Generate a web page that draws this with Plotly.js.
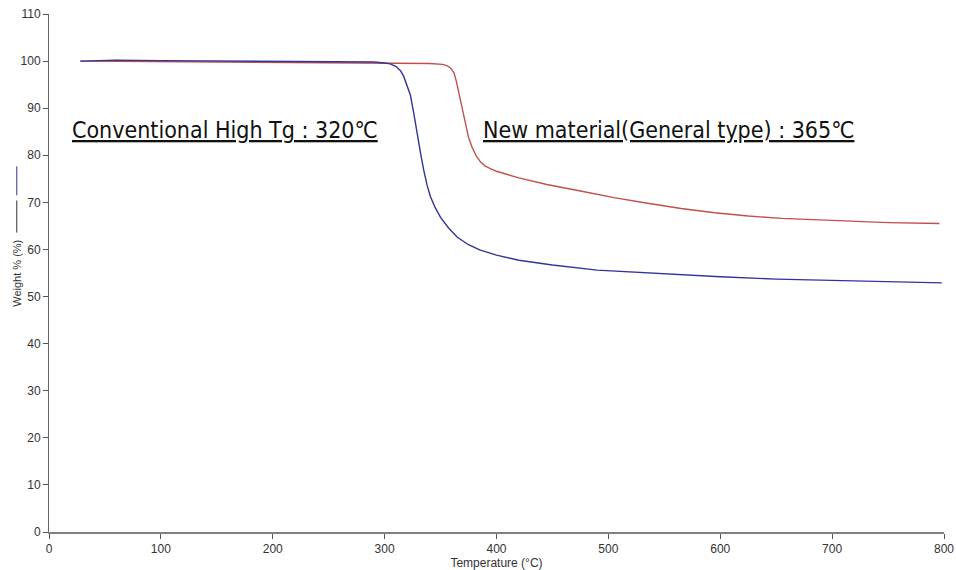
<!DOCTYPE html>
<html>
<head>
<meta charset="utf-8">
<script src="https://cdn.plot.ly/plotly-3.0.1.min.js"></script>
<style>
html,body{margin:0;padding:0;background:#fff;}
#chart{width:956px;height:570px;}
</style>
</head>
<body>
<div id="chart"></div>
<script>
// Conventional High Tg (blue)
const convTemp = [28,60,100,150,200,250,290,300,305,310,314,317,320,323,326,329,332,335,338,341,345,350,357,365,375,385,400,420,450,490,540,600,650,700,750,798];
const convWeight = [100.0,100.2,100.1,100.0,99.9,99.9,99.8,99.6,99.4,98.9,98.0,96.8,95.0,92.8,89.0,84.5,80.6,76.8,73.6,71.2,69.0,66.8,64.6,62.6,61.0,59.9,58.8,57.7,56.7,55.6,54.9,54.2,53.7,53.4,53.1,52.9];
// New material (General type) (red)
const newTemp = [28,100,200,300,340,352,356,359,362,364,366,368,370,372,375,378,382,386,390,395,400,420,445,475,505,535,565,595,625,655,685,715,750,796];
const newWeight = [100.0,99.9,99.8,99.7,99.5,99.3,99.0,98.5,97.5,95.8,93.6,91.0,88.6,86.5,83.8,81.8,79.8,78.5,77.7,77.1,76.6,75.2,73.8,72.4,71.0,69.8,68.7,67.8,67.1,66.6,66.3,66.0,65.7,65.5];

const xTicks = [0,100,200,300,400,500,600,700,800];
const yTicks = [0,10,20,30,40,50,60,70,80,90,100,110];

const labelConv = "Conventional High Tg : 320℃";
const labelNew = "New material(General type) : 365℃";
const yTitle = "Weight % (%)";
const xTitle = "Temperature (°C)";

const narrow = "'Liberation Sans Narrow', 'Liberation Sans', Arial, sans-serif";
const tickFont = {family: narrow, size: 12, color: '#333'};

const traces = [
  {x: newTemp, y: newWeight, type: 'scatter', mode: 'lines', line: {color: '#c0504d', width: 1.4}, name: 'New'},
  {x: convTemp, y: convWeight, type: 'scatter', mode: 'lines', line: {color: '#343496', width: 1.4}, name: 'Conventional'}
];

const layout = {
  width: 956, height: 570,
  margin: {l: 49, r: 12, t: 14, b: 38},
  paper_bgcolor: '#fff', plot_bgcolor: '#fff',
  showlegend: false,
  xaxis: {
    range: [0, 800], tickvals: xTicks, ticktext: xTicks.map(String),
    showgrid: false, zeroline: false, showline: true, linecolor: '#808080', linewidth: 2,
    ticks: 'outside', ticklen: 5, tickcolor: '#555', tickfont: tickFont,
    title: {text: xTitle, font: {family: narrow, size: 12, color: '#333'}, standoff: 2}
  },
  yaxis: {
    range: [0, 110], tickvals: yTicks, ticktext: yTicks.map(String),
    showgrid: false, zeroline: false, showline: true, linecolor: '#666', linewidth: 1,
    ticks: 'outside', ticklen: 5, tickcolor: '#555', tickfont: tickFont
  },
  annotations: [
    {x: 157, y: 85.4, xref: 'x', yref: 'y', text: '<u>' + labelConv + '</u>', showarrow: false,
     font: {family: "'Liberation Sans Narrow', 'DejaVu Sans Condensed', sans-serif", size: 23, color: '#111'}},
    {x: 554, y: 85.4, xref: 'x', yref: 'y', text: '<u>' + labelNew + '</u>', showarrow: false,
     font: {family: "'Liberation Sans Narrow', 'DejaVu Sans Condensed', sans-serif", size: 23, color: '#111'}},
    {x: -0.036, y: 0.5, xref: 'paper', yref: 'paper', xanchor: 'center', yanchor: 'middle',
     text: yTitle, textangle: -90, showarrow: false,
     font: {family: "'Liberation Sans', Arial, sans-serif", size: 11, color: '#333'}}
  ],
  shapes: [
    {type: 'line', xref: 'paper', yref: 'paper', x0: -0.036, x1: -0.036, y0: 0.65, y1: 0.706, line: {color: '#343496', width: 1}},
    {type: 'line', xref: 'paper', yref: 'paper', x0: -0.036, x1: -0.036, y0: 0.578, y1: 0.64, line: {color: '#333', width: 1}}
  ]
};

Plotly.newPlot('chart', traces, layout, {staticPlot: true, displayModeBar: false});
</script>
</body>
</html>
